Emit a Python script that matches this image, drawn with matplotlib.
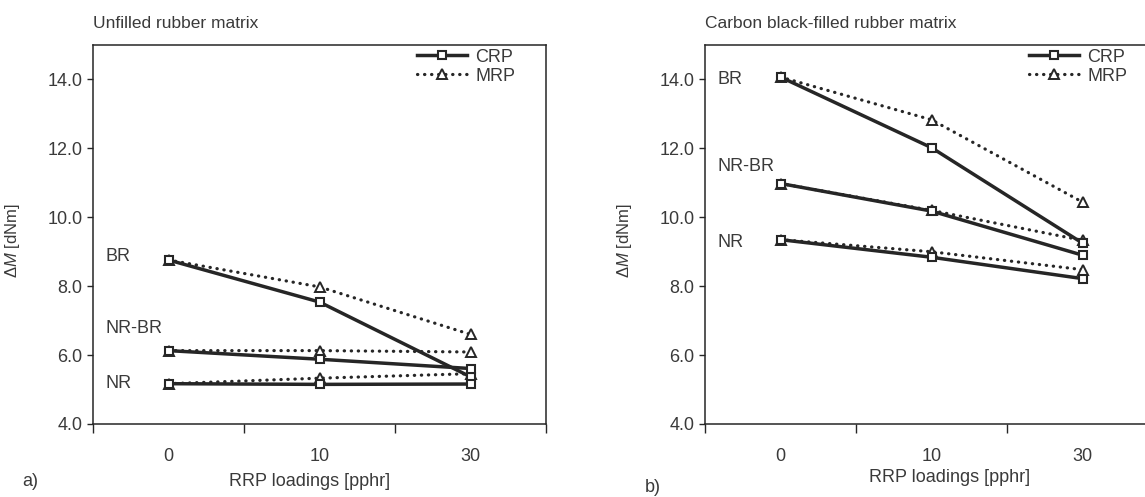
import numpy as np
import matplotlib
matplotlib.use('Agg')
import matplotlib.pyplot as plt

plt.rcParams['font.family'] = ['Liberation Sans', 'DejaVu Sans']
plt.rcParams['mathtext.fontset'] = 'custom'
plt.rcParams['mathtext.rm'] = 'Liberation Sans'
plt.rcParams['mathtext.it'] = 'Liberation Sans:italic'

# data
loadings = ['0', '10', '30']
rubbers = ['BR', 'NR-BR', 'NR']

# unfilled rubber matrix
unfilled_crp = {'BR': [8.76, 7.54, 5.37], 'NR-BR': [6.13, 5.88, 5.61], 'NR': [5.17, 5.15, 5.16]}
unfilled_mrp = {'BR': [8.76, 7.98, 6.60], 'NR-BR': [6.13, 6.13, 6.09], 'NR': [5.17, 5.33, 5.46]}
unfilled_label_y = {'BR': 8.85, 'NR-BR': 6.77, 'NR': 5.17}

# carbon black-filled rubber matrix
filled_crp = {'BR': [14.07, 12.02, 9.25], 'NR-BR': [10.98, 10.18, 8.90], 'NR': [9.35, 8.84, 8.22]}
filled_mrp = {'BR': [14.07, 12.83, 10.44], 'NR-BR': [10.98, 10.20, 9.33], 'NR': [9.35, 9.00, 8.48]}
filled_label_y = {'BR': 14.0, 'NR-BR': 11.48, 'NR': 9.26}

ink = '#262626'
txt = '#3a3a3a'
fs = 13

fig = plt.figure(figsize=(11.45, 4.97), dpi=100)
fig.patch.set_facecolor('white')

W, H = 1145.0, 497.0
ax_a = fig.add_axes([93 / W, (H - 424) / H, 453 / W, 379 / H])
ax_b = fig.add_axes([705 / W, (H - 424) / H, 453 / W, 379 / H])


def draw_panel(ax, crp, mrp, label_y, title):
    x = np.arange(len(loadings))
    crp_lines, mrp_lines = [], []
    for r in rubbers:
        l2, = ax.plot(x, mrp[r], color=ink, lw=2.3, linestyle=(0, (0.1, 2.1)),
                      dash_capstyle='round', marker='^', ms=6.5, mfc='white',
                      mec=ink, mew=1.4, zorder=3)
        l1, = ax.plot(x, crp[r], color=ink, lw=2.5, marker='s', ms=6.3,
                      mfc='white', mec=ink, mew=1.5, zorder=4)
        crp_lines.append(l1)
        mrp_lines.append(l2)
        ax.text(-0.415, label_y[r], r, fontsize=fs, color=txt,
                ha='left', va='center')

    ax.set_xlim(-0.5, 2.5)
    ax.set_ylim(4, 15)
    ax.set_yticks(np.arange(4, 15, 2))
    ax.set_yticklabels([f'{v:.1f}' for v in np.arange(4, 15, 2)])
    ax.set_xticks([-0.5, 0.5, 1.5, 2.5])
    ax.set_xticklabels([])
    ax.set_xticks(x, minor=True)
    ax.set_xticklabels(loadings, minor=True)
    ax.tick_params(axis='x', which='major', direction='out', length=6.5,
                   width=1.0, color=ink)
    ax.tick_params(axis='x', which='minor', length=0, pad=17,
                   labelsize=fs, labelcolor=txt)
    ax.tick_params(axis='y', direction='out', length=4.5, width=1.0,
                   color=ink, labelsize=fs, labelcolor=txt, pad=3)
    ax.tick_params(top=False, right=False)
    for s in ax.spines.values():
        s.set_linewidth(1.1)
        s.set_color(ink)

    ax.set_ylabel(r'Δ$M$ [dNm]', fontsize=12, color=txt)
    ax.yaxis.set_label_coords(-0.157, 0.483)

    ax.text(0, 1.057, title, transform=ax.transAxes, fontsize=fs - 0.5,
            color=txt, ha='left', va='center')

    leg = ax.legend([crp_lines[0], mrp_lines[0]], ['CRP', 'MRP'],
                    loc='upper left', bbox_to_anchor=(0.715, 0.99),
                    frameon=False, fontsize=fs, handlelength=2.8,
                    handletextpad=0.45, labelspacing=0.1, borderpad=0,
                    borderaxespad=0)
    for t in leg.get_texts():
        t.set_color(txt)


draw_panel(ax_a, unfilled_crp, unfilled_mrp, unfilled_label_y,
           'Unfilled rubber matrix')
draw_panel(ax_b, filled_crp, filled_mrp, filled_label_y,
           'Carbon black-filled rubber matrix')

fig.text(310 / W, 1 - 481 / H, 'RRP loadings [pphr]', fontsize=fs,
         color=txt, ha='center', va='center')
fig.text(950 / W, 1 - 478 / H, 'RRP loadings [pphr]', fontsize=fs,
         color=txt, ha='center', va='center')
fig.text(22 / W, 1 - 481 / H, 'a)', fontsize=fs, color=txt,
         ha='left', va='center')
fig.text(645 / W, 1 - 488 / H, 'b)', fontsize=fs, color=txt,
         ha='left', va='center')

fig.savefig('out.png', dpi=100)
